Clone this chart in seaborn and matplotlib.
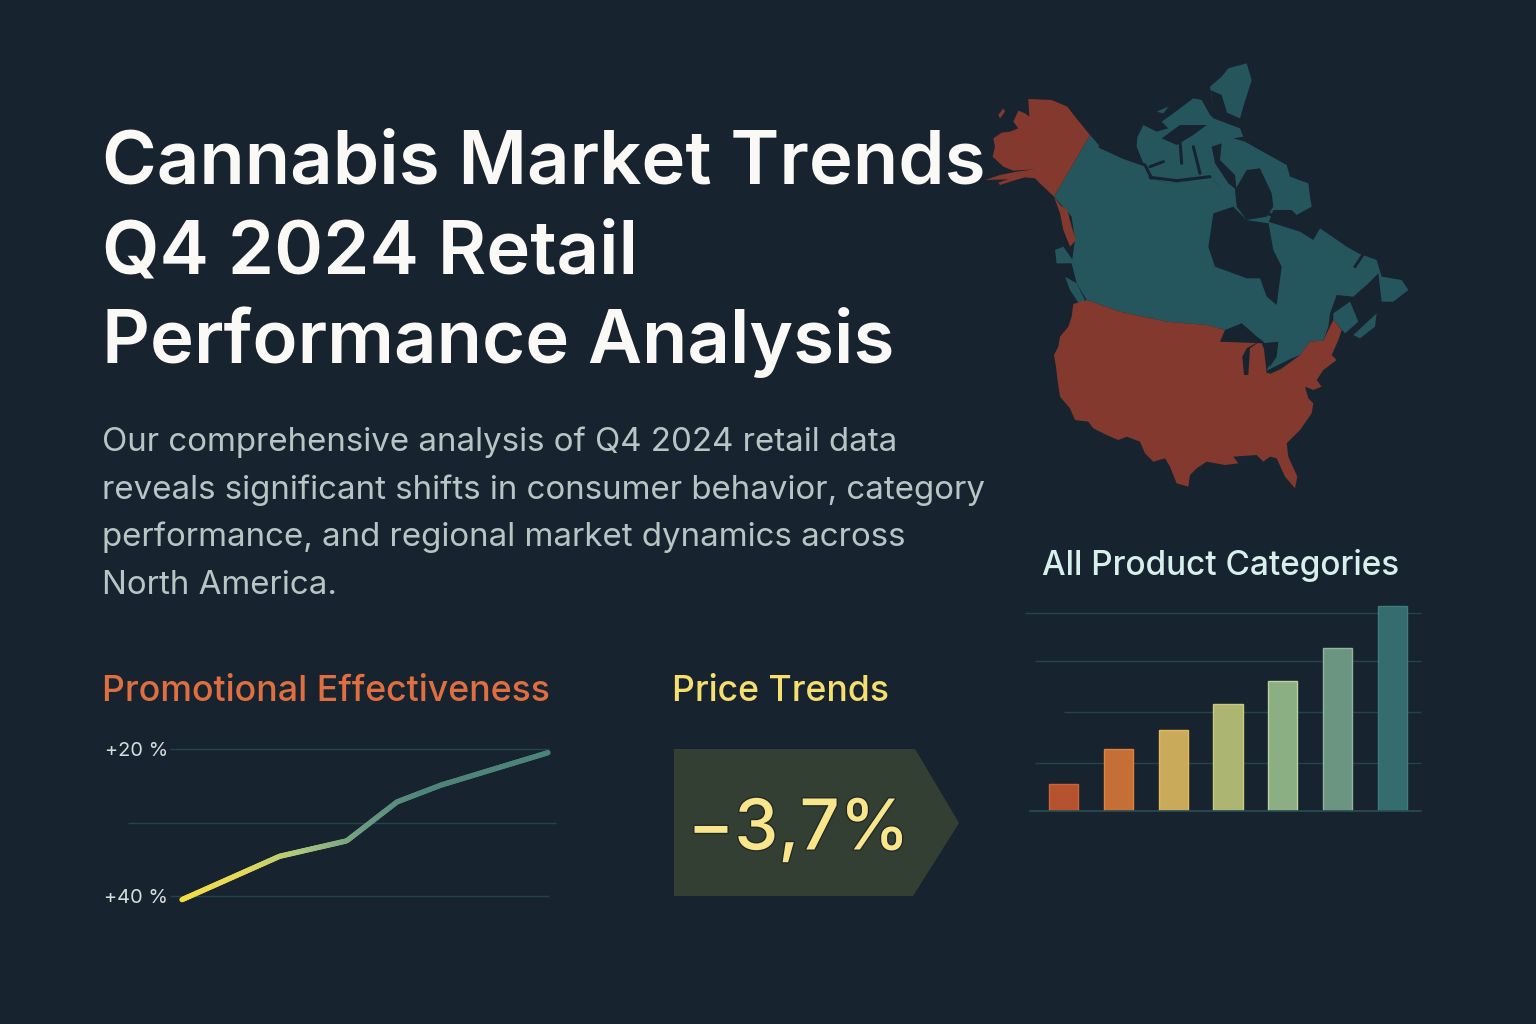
# Cannabis market trends poster, rebuilt with seaborn and matplotlib

import numpy as np
import pandas as pd
import matplotlib
matplotlib.use('Agg')
import matplotlib.pyplot as plt
import matplotlib.patheffects as pe
from matplotlib.collections import LineCollection
from matplotlib.colors import LinearSegmentedColormap
from matplotlib.patches import Polygon
import seaborn as sns

BG = '#17242f'
RED = '#83392d'
TEAL = '#25565e'
GRID = '#24434a'

title_lines = ['Cannabis Market Trends', 'Q4 2024 Retail', 'Performance Analysis']
body_lines = [
    'Our comprehensive analysis of Q4 2024 retail data',
    'reveals significant shifts in consumer behavior, category',
    'performance, and regional market dynamics across',
    'North America.',
]

# Promotional effectiveness line
promo_week = [0, 3.2, 5.4, 7.05, 8.5, 12]
promo_value = [40.5, 34.6, 32.5, 27.2, 24.9, 20.5]
promo_ticks = [20, 30, 40]
promo_tick_labels = ['+20 %', '', '+40 %']

price_change = '\u22123,7%'

# Product category bars (no labels in the picture)
categories = ['A', 'B', 'C', 'D', 'E', 'F', 'G']
category_values = [0.55, 1.25, 1.64, 2.16, 2.63, 3.29, 4.14]
category_colors = ['#b5532f', '#c56f37', '#c9a95a', '#adb573', '#8cae83', '#6b9580', '#356c6e']
category_edges = ['#cf6238', '#e07f3e', '#e3b957', '#c9cc78', '#b4d49c', '#8db79b', '#3f7b7d']
category_grid = [0.97, 2.0, 3.03, 4.0]

# Map outlines, traced in the coordinates of a 3x crop starting at (980, 50)
us_outline = [(320,750),(280,762),(275,800),(265,830),(240,860),(235,890),(222,915),(228,950),(232,985),(240,1040),
              (270,1075),(285,1110),(325,1115),(340,1135),(380,1155),(415,1170),(440,1160),(480,1175),(495,1210),
              (520,1235),(555,1225),(570,1250),(590,1300),(625,1310),(630,1275),(650,1255),(680,1235),(735,1245),
              (775,1240),(760,1220),(830,1215),(850,1235),(870,1220),(890,1225),(915,1280),(945,1315),(952,1280),
              (925,1220),(920,1180),(960,1140),(995,1090),(1000,1060),(985,1045),(975,1010),(1000,1020),(1025,1010),
              (1010,990),(1030,960),(1070,930),(1055,915),(1075,870),(1085,840),(1060,810),(1050,830),(1030,872),
              (990,875),(960,915),(900,960),(860,970),(850,880),(720,875),(735,840),(680,825),(560,815),(420,785)]
alaska_outline = [(145,147),(215,150),(262,170),(285,200),(330,255),(222,440),(185,405),(165,385),(135,382),
                  (100,392),(60,405),(55,398),(85,388),(15,390),(60,375),(110,365),(165,358),(100,362),(70,350),
                  (38,320),(45,290),(40,265),(65,248),(90,245),(115,235),(100,215),(115,182),(135,190),(148,200)]
panhandle_outline = [(222,440),(240,465),(262,480),(275,530),(288,570),(270,590),(250,540),(240,490)]
alaska_island = [(55,195),(70,175),(75,185),(60,205)]
canada_outline = [(330,255),(365,295),(430,320),(490,340),(515,385),(560,400),(620,395),(690,380),(720,410),
                  (750,430),(760,470),(700,490),(685,590),(705,650),(800,685),(840,685),(860,740),(890,765),
                  (905,650),(880,600),(865,515),(960,545),(1000,570),(1020,535),(1100,590),(1135,610),(1190,630),
                  (1205,680),(1265,690),(1285,720),(1240,755),(1205,755),(1195,670),(1165,700),(1120,740),
                  (1070,735),(1050,790),(1045,830),(1030,872),(990,875),(960,915),(900,960),(870,970),(860,960),
                  (885,920),(850,875),(830,860),(785,820),(735,840),(680,825),(560,815),(420,785),(320,750),
                  (290,700),(275,640),(285,570),(275,500),(222,440)]
arctic_outline = [(470,290),(472,262),(490,225),(530,245),(565,235),(545,215),(580,190),(640,145),(665,150),(690,195),
                  (700,205),(780,235),(790,260),(760,265),(795,275),(830,295),(920,345),(930,380),(985,400),(990,440),
                  (995,470),(950,495),(935,480),(880,480),(865,520),(800,510),(760,470),(720,410),(690,380),(620,395),
                  (560,400),(515,385),(490,340)]
canada_islands = [
    arctic_outline,
    [(725,80),(745,55),(800,40),(815,90),(790,170),(780,205),(700,170),(690,110)],
    [(530,185),(565,170),(550,190)],
    [(1060,790),(1110,755),(1135,815),(1095,850),(1060,810)],
    [(1120,855),(1190,790),(1185,830),(1140,865)],
    [(225,600),(250,590),(285,640),(255,640),(230,640)],
    [(255,680),(290,700),(315,750),(300,765),(270,720)],
]
water_shapes = [
    [(720,875),(785,820),(835,865),(850,872),(790,868)],
    [(787,920),(800,895),(845,870),(810,895),(805,975),(792,975)],
    [(845,880),(895,875),(890,920),(870,950),(860,915)],
    [(860,962),(935,925),(960,915),(905,955),(870,972)],
    [(800,360),(840,355),(875,430),(880,470),(860,500),(800,510),(770,470),(765,420)],
    [(695,290),(725,280),(720,330),(765,375),(770,420),(745,400),(705,340)],
    [(545,265),(600,225),(680,225),(640,255),(590,285)],
    [(692,120),(725,135),(745,200),(700,170)],
]
channels = [
    [(600,275),(605,340)],
    [(640,290),(660,370)],
    [(510,350),(550,335)],
    [(510,382),(590,392),(690,380)],
    [(360,290),(430,322),(495,345),(515,385)],
    [(860,490),(960,520)],
    [(1125,650),(1148,615)],
]


def px_axes(fig, left, top, right, bottom):
    return fig.add_axes([left / 1536, 1 - bottom / 1024, (right - left) / 1536, (bottom - top) / 1024])


def crop_xy(points):
    return [(980 + x / 3, 50 + y / 3) for x, y in points]


sns.set_theme(style='dark', rc={'figure.facecolor': BG, 'axes.facecolor': 'none', 'axes.grid': False})
plt.rcParams['font.family'] = ['Inter', 'DejaVu Sans']

fig = plt.figure(figsize=(15.36, 10.24), dpi=100, facecolor=BG)

# Page layer in pixel coordinates, for text, map and the price tag
page = fig.add_axes([0, 0, 1, 1], zorder=0)
page.set_xlim(0, 1536)
page.set_ylim(1024, 0)
page.axis('off')

for outline in [canada_outline] + canada_islands:
    page.add_patch(Polygon(crop_xy(outline), closed=True, fc=TEAL, ec='none'))
for outline in [us_outline, alaska_outline, panhandle_outline, alaska_island]:
    page.add_patch(Polygon(crop_xy(outline), closed=True, fc=RED, ec='none'))
for outline in water_shapes:
    page.add_patch(Polygon(crop_xy(outline), closed=True, fc=BG, ec='none'))
for course in channels:
    xs, ys = zip(*crop_xy(course))
    page.plot(xs, ys, color=BG, linewidth=2.2, solid_capstyle='round')

for y, line in zip([157, 246, 335], title_lines):
    page.text(102, y, line, fontsize=53.5, fontweight='semibold', color='#fbf9f5', va='center_baseline', zorder=5)
for y, line in zip([439, 487, 534, 582], body_lines):
    page.text(102.5, y, line, fontsize=23.8, color='#b8c5c5', va='center_baseline')

page.text(102.5, 688, 'Promotional Effectiveness', fontsize=25.7, fontweight='medium', color='#df6f41', va='center_baseline')
page.text(672.5, 688, 'Price Trends', fontsize=25.6, fontweight='medium', color='#f6de6f', va='center_baseline')
page.text(1041.5, 562, 'All Product Categories', fontsize=24, fontweight='medium', color='#d9efec', va='center_baseline')

page.add_patch(Polygon([(674, 749), (915, 749), (959, 823), (913, 896), (674, 896)], closed=True, fc='#343f33', ec='none'))
page.text(798.5, 824, price_change, fontsize=50.5, fontweight='medium', color='#fbe58a', ha='center', va='center_baseline',
          path_effects=[pe.withStroke(linewidth=2, foreground='#1e2b2c')])

# Line chart: 30.5 px per week, 7.35 px per point, value axis runs downwards
line_ax = px_axes(fig, 168, 734.3, 556, 910.7)
line_ax.set_zorder(2)
promo = pd.DataFrame({'week': promo_week, 'value': promo_value})
sns.lineplot(data=promo, x='week', y='value', ax=line_ax, color='#7fa885', linewidth=3)
line_ax.set_xlim((168 - 182) / 30.5, (556 - 182) / 30.5)
line_ax.set_ylim(42, 18)
line_ax.set_xlabel('')
line_ax.set_ylabel('')
line_ax.set_xticks([])
line_ax.set_yticks(promo_ticks, promo_tick_labels, fontsize=14.4, color='#d5dedd')
line_ax.tick_params(axis='y', length=0, pad=0)
sns.despine(ax=line_ax, left=True, bottom=True)
line_ax.hlines(promo_ticks, [-0.4, -1.77, -0.4], [12.03, 12.26, 12.03], colors=GRID, linewidth=1, zorder=1, clip_on=False)

# The stroke fades from yellow to teal along x, so it is cut finely for colour only
fade = LinearSegmentedColormap.from_list('fade', ['#f5dc45', '#e6d95a', '#a9c67f', '#6b9a83', '#4f8479', '#4f8479', '#4a8479'])
fine_x = np.linspace(promo_week[0], promo_week[-1], 200)
fine_y = np.interp(fine_x, promo_week, promo_value)
stroke_pts = np.column_stack([fine_x, fine_y]).reshape(-1, 1, 2)
stroke = LineCollection(np.concatenate([stroke_pts[:-1], stroke_pts[1:]], axis=1), cmap=fade, linewidth=3.8,
                        capstyle='round', joinstyle='round', zorder=3, clip_on=False)
stroke.set_array(fine_x[:-1])
line_ax.add_collection(stroke)

# Bar chart: 54.83 px per category, 49.5 px per unit
bar_ax = px_axes(fig, 1030, 590, 1421, 811)
bar_ax.set_zorder(2)
bar_ax.hlines(category_grid, [-0.52, 0.01, -0.52, -0.70], 6.52, colors=GRID, linewidth=1, zorder=0, clip_on=False)
bars = pd.DataFrame({'category': categories, 'value': category_values})
sns.barplot(data=bars, x='category', y='value', hue='category', palette=category_colors, legend=False,
            width=0.53, saturation=1, ax=bar_ax, zorder=2)
for patch, edge in zip(bar_ax.patches, category_edges):
    patch.set_edgecolor(edge)
    patch.set_linewidth(1)
bar_ax.set_xlim(-0.611, 6.52)
bar_ax.set_ylim(0, 221 / 49.5)
bar_ax.set_xlabel('')
bar_ax.set_ylabel('')
bar_ax.set_xticks([])
bar_ax.set_yticks([])
sns.despine(ax=bar_ax, left=True)
bar_ax.spines['bottom'].set_color('#2a4c52')
bar_ax.spines['bottom'].set_linewidth(1.2)

fig.savefig('out.png', dpi=100, facecolor=BG)
